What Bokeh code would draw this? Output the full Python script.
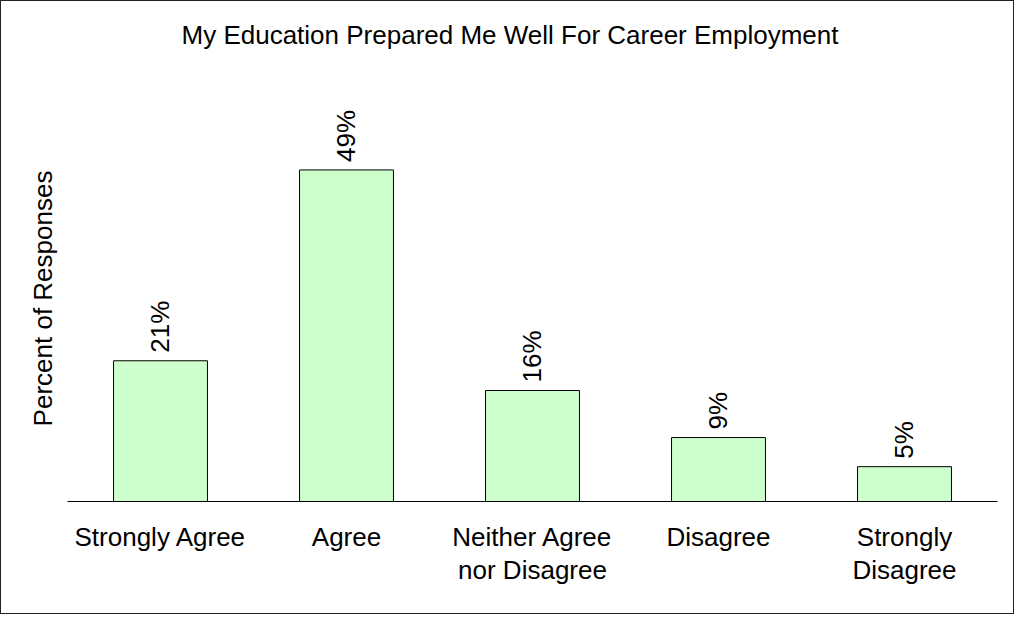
import math
from bokeh.plotting import figure
from bokeh.models import ColumnDataSource, FixedTicker, Range1d, FactorRange
from bokeh.embed import file_html
from bokeh.resources import INLINE
from bokeh.core.properties import value

# ---- data ----
title_text = "My Education Prepared Me Well For Career Employment"
y_label = "Percent of Responses"
categories = ["Strongly Agree", "Agree", "Neither Agree\nnor Disagree", "Disagree", "Strongly\nDisagree"]
percents = [20.8, 49.0, 16.4, 9.45, 5.15]
bar_labels = [f"{round(v)}%" for v in percents]

FONT = "Liberation Sans"
FS = "26px"

source = ColumnDataSource(dict(cat=categories, pct=percents, lab=bar_labels))

p = figure(
    width=1014, height=614,
    x_range=FactorRange(factors=categories, range_padding=0),
    y_range=Range1d(0, 60),
    output_backend="svg", toolbar_location=None,
    min_border_left=66, min_border_right=18, min_border_top=94, min_border_bottom=114,
)
p.styles = {"border": "1px solid #222"}

# blank second line lifts the title towards the top of the chart box
p.title.text = title_text + "\n "
p.title.align = "left"
p.title.offset = 114
p.title.standoff = 31
p.title.text_font = FONT
p.title.text_font_size = FS
p.title.text_font_style = "normal"
p.title.text_color = "black"

p.vbar(x="cat", top="pct", width=0.505, bottom=0, source=source,
       fill_color="#CCFFCC", line_color="black", line_width=1)

p.text(x="cat", y="pct", text="lab", source=source, angle=math.pi / 2,
       text_align="left", text_baseline="middle", x_offset=-1, y_offset=-8,
       text_font=value(FONT), text_font_size=FS, text_color="black")

p.xgrid.visible = False
p.ygrid.visible = False
p.outline_line_color = None
p.background_fill_color = "white"
p.border_fill_color = "white"

xa = p.xaxis[0]
xa.axis_line_color = "black"
xa.axis_line_width = 1
xa.major_tick_line_color = None
xa.minor_tick_line_color = None
xa.major_tick_out = 0
xa.major_tick_in = 0
xa.major_label_text_font = FONT
xa.major_label_text_font_size = FS
xa.major_label_text_color = "black"
xa.major_label_standoff = 20
xa.major_label_text_line_height = 1.12

ya = p.yaxis[0]
ya.ticker = FixedTicker(ticks=[])
ya.axis_line_color = None
ya.major_tick_line_color = None
ya.minor_tick_line_color = None
ya.major_tick_out = 0
ya.major_tick_in = 0
ya.axis_label = y_label
ya.axis_label_text_font = FONT
ya.axis_label_text_font_size = FS
ya.axis_label_text_font_style = "normal"
ya.axis_label_text_color = "black"
ya.axis_label_standoff = 10

open("out.html", "w").write(file_html(p, INLINE))
